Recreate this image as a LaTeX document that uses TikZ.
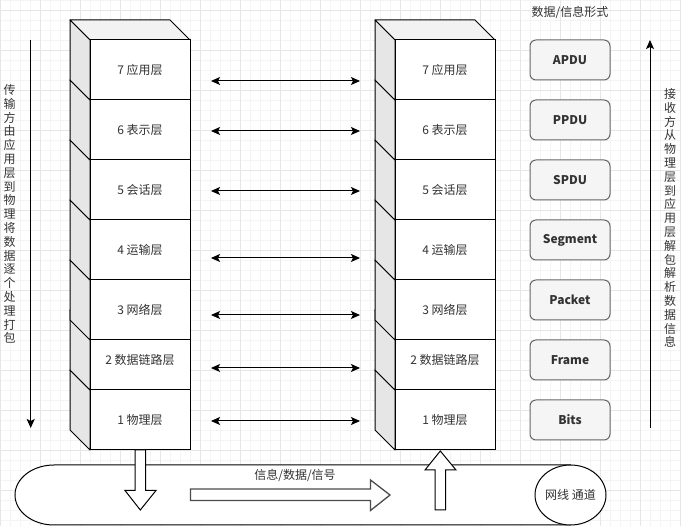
\documentclass[tikz,border=0pt]{standalone}
\usepackage{fontspec}
\setmainfont{Noto Sans CJK SC}
\usetikzlibrary{arrows.meta,shapes.geometric}
\definecolor{gmaj}{HTML}{E6E6E6}
\definecolor{gmin}{HTML}{F4F4F4}
\definecolor{topc}{HTML}{F2F2F2}
\definecolor{sidec}{HTML}{E6E6E6}
\definecolor{txt}{HTML}{333333}
\definecolor{pdufill}{HTML}{F5F5F5}
\definecolor{pdudraw}{HTML}{666666}
\tikzset{
  topface/.style={fill=topc,draw=black,line width=1pt,line join=round},
  sideface/.style={fill=sidec,draw=black,line width=1pt,line join=round},
  frontface/.style={fill=white,draw=black,line width=1pt,text=txt,inner sep=0pt,font=\fontsize{12}{14}\selectfont},
  dbl/.style={line width=1pt,{Stealth[length=9pt,width=8pt,inset=2pt]}-{Stealth[length=9pt,width=8pt,inset=2pt]}},
  sarr/.style={line width=1pt,-{Stealth[length=9pt,width=8pt,inset=2pt]}},
  pdubox/.style={rounded corners=6pt,fill=pdufill,draw=pdudraw,line width=1pt,minimum width=80pt,minimum height=40pt,inner sep=0pt,text=txt,font=\fontsize{12}{14}\selectfont\bfseries},
  plain/.style={text=txt,inner sep=0pt,font=\fontsize{12}{14}\selectfont},
  vtext/.style={text=txt,inner sep=0pt,align=center,font=\fontsize{12}{13.8}\selectfont},
  blockarr/.style={fill=white,draw=black,line width=1pt,line join=miter},
}
\newcommand\drawcube[5]{%
  \filldraw[topface] ({#1-20},{#2-20}) -- ({#1+80},{#2-20}) -- ({#1+100},#2) -- (#1,#2) -- cycle;
  \filldraw[sideface] ({#1-20},{#2-20}) -- (#1,#2) -- (#1,#3) -- ({#1-20},{#3-20}) -- cycle;
  \node[frontface,minimum width=100pt,minimum height={#3-#2}] (#4) at ({#1+50},{(#2+#3)/2}) {#5};
}
\begin{document}
\begin{tikzpicture}[x=1pt,y=-1pt]
\useasboundingbox (0,0) rectangle (681,526);
\fill[white] (0,0) rectangle (681,526);
% grid
\foreach \x in {0,10,...,680} \draw[gmin,line width=0.8pt] (\x,0) -- (\x,526);
\foreach \y in {0,10,...,520} \draw[gmin,line width=0.8pt] (0,\y) -- (681,\y);
\foreach \x in {0,40,...,680} \draw[gmaj,line width=0.8pt] (\x,0) -- (\x,526);
\foreach \y in {10,50,...,490} \draw[gmaj,line width=0.8pt] (0,\y) -- (681,\y);

% left stack
\drawcube{90}{390}{450}{L1}{1 物理层}
\drawcube{90}{330}{390}{L2}{2 数据链路层}
\drawcube{90}{280}{340}{L3}{3 网络层}
\drawcube{90}{220}{280}{L4}{4 运输层}
\drawcube{90}{160}{220}{L5}{5 会话层}
\drawcube{90}{100}{160}{L6}{6 表示层}
\drawcube{90}{40}{100}{L7}{7 应用层}
% right stack
\drawcube{395}{390}{450}{R1}{1 物理层}
\drawcube{395}{330}{390}{R2}{2 数据链路层}
\drawcube{395}{280}{340}{R3}{3 网络层}
\drawcube{395}{220}{280}{R4}{4 运输层}
\drawcube{395}{160}{220}{R5}{5 会话层}
\drawcube{395}{100}{160}{R6}{6 表示层}
\drawcube{395}{40}{100}{R7}{7 应用层}

% double arrows
\foreach \n/\y in {7/81,6/131,5/191,4/258,3/315,2/368,1/421}{
  \coordinate (a\n) at (211,\y);
  \coordinate (b\n) at (360,\y);
  \draw[dbl] (a\n) -- (b\n);
}

% PDU column
\node[plain] (title) at (570,12.5) {数据/信息形式};
\node[pdubox] (apdu) at (570,60) {APDU};
\node[pdubox] (ppdu) at (570,120) {PPDU};
\node[pdubox] (spdu) at (570,180) {SPDU};
\node[pdubox] (seg) at (570,240) {Segment};
\node[pdubox] (pkt) at (570,300) {Packet};
\node[pdubox] (frm) at (570,360) {Frame};
\node[pdubox] (bits) at (570,420) {Bits};

% side arrows and texts
\coordinate (ls) at (30.7,40);
\coordinate (le) at (30.7,428);
\draw[sarr] (ls) -- (le);
\node[vtext] (ltext) at (9.5,214) {传\\输\\方\\由\\应\\用\\层\\到\\物\\理\\将\\数\\据\\逐\\个\\处\\理\\打\\包};
\coordinate (rs) at (650,428);
\coordinate (re) at (650,40);
\draw[sarr] (rs) -- (re);
\node[vtext] (rtext) at (670,218) {接\\收\\方\\从\\物\\理\\层\\到\\应\\用\\层\\解\\包\\解\\析\\数\\据\\信\\息};

% pipe
\filldraw[fill=white,draw=black,line width=1pt] (54,465) -- (570.5,465) -- (570.5,525) -- (54,525) arc[start angle=90,end angle=270,x radius=39,y radius=30] -- cycle;
\filldraw[fill=white,draw=black,line width=1pt] (570.5,495) ellipse[x radius=35.5,y radius=30];
\node[plain] (chan) at (570.5,495) {网线 通道};

% block arrows
\filldraw[blockarr] (135,450) -- (145.5,450) -- (145.5,490.5) -- (156,490.5) -- (140.3,510) -- (125,490.5) -- (135,490.5) -- cycle;
\filldraw[blockarr,draw=black!70,line width=1.3pt] (190.5,489) -- (370.5,489) -- (370.5,480) -- (390,495) -- (370.5,510.5) -- (370.5,500.5) -- (190.5,500.5) -- cycle;
\filldraw[blockarr] (435,510) -- (445.5,510) -- (445.5,470) -- (456,470) -- (440.3,451) -- (425,470) -- (435,470) -- cycle;
\node[plain] (sig) at (295,475) {信息/数据/信号};
\end{tikzpicture}
\end{document}
